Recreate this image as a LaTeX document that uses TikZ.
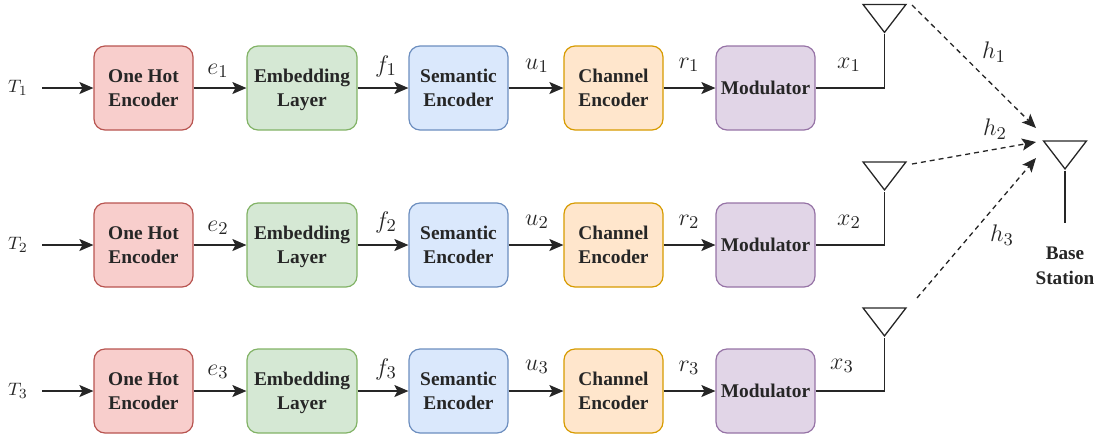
\documentclass[tikz,border=0pt]{standalone}
\usepackage{amsmath,amssymb}
\usepackage{fontspec}
\setmainfont{Liberation Serif}
\usetikzlibrary{arrows.meta,shapes.geometric}

\definecolor{redfill}{HTML}{F8CECC}
\definecolor{redline}{HTML}{B85450}
\definecolor{greenfill}{HTML}{D5E8D4}
\definecolor{greenline}{HTML}{82B366}
\definecolor{bluefill}{HTML}{DAE8FC}
\definecolor{blueline}{HTML}{6C8EBF}
\definecolor{orangefill}{HTML}{FFE6CC}
\definecolor{orangeline}{HTML}{D79B00}
\definecolor{purplefill}{HTML}{E1D5E7}
\definecolor{purpleline}{HTML}{9673A6}

\tikzset{
  block/.style={shape=rectangle, rounded corners=5.5pt, minimum height=42pt, align=center, inner sep=0pt, line width=0.6pt, text=black!85, font=\fontsize{9.7}{12}\selectfont\bfseries},
  onehot/.style={block, minimum width=49.5pt, draw=redline, fill=redfill},
  embed/.style={block, minimum width=55pt, text depth=0pt, draw=greenline, fill=greenfill},
  semantic/.style={block, minimum width=49.5pt, draw=blueline, fill=bluefill},
  channel/.style={block, minimum width=49.5pt, draw=orangeline, fill=orangefill},
  modul/.style={block, minimum width=49.5pt, draw=purpleline, fill=purplefill},
  antenna/.style={shape=isosceles triangle, shape border rotate=-90, isosceles triangle stretches, minimum width=21.5pt, minimum height=14pt, inner sep=0pt, line width=0.65pt, draw=black!85},
  conn/.style={line width=0.65pt, draw=black!85, -{Stealth[length=7pt,width=6pt,inset=1.5pt]}},
  wire/.style={line width=0.65pt, draw=black!85},
  link/.style={conn, dashed, dash pattern=on 2.5pt off 2pt},
  sym/.style={inner sep=0pt, text=black!85, font=\fontsize{13}{15}\selectfont},
  tsym/.style={inner sep=0pt, text=black!85, font=\fontsize{9.5}{11}\selectfont}
}

\begin{document}
\begin{tikzpicture}[x=0.5pt,y=-0.5pt]
\useasboundingbox (0,0) rectangle (1100,436);

% row 1
\path (18,88) node (T1) [tsym] {$T_1$};
\path (143.5,88) node (H1) [onehot] {One Hot\\Encoder};
\path (302,88) node (E1) [embed] {Embedding\\Layer};
\path (458.5,88) node (S1) [semantic] {Semantic\\Encoder};
\path (613.5,88) node (C1) [channel] {Channel\\Encoder};
\path (765.5,88) node (M1) [modul] {Modulator};
\path (884.5,15) node (A1) [antenna] {};

% row 2
\path (18,245) node (T2) [tsym] {$T_2$};
\path (143.5,245) node (H2) [onehot] {One Hot\\Encoder};
\path (302,245) node (E2) [embed] {Embedding\\Layer};
\path (458.5,245) node (S2) [semantic] {Semantic\\Encoder};
\path (613.5,245) node (C2) [channel] {Channel\\Encoder};
\path (765.5,245) node (M2) [modul] {Modulator};
\path (884.5,172.5) node (A2) [antenna] {};

% row 3
\path (18,391) node (T3) [tsym] {$T_3$};
\path (143.5,391) node (H3) [onehot] {One Hot\\Encoder};
\path (302,391) node (E3) [embed] {Embedding\\Layer};
\path (458.5,391) node (S3) [semantic] {Semantic\\Encoder};
\path (613.5,391) node (C3) [channel] {Channel\\Encoder};
\path (765.5,391) node (M3) [modul] {Modulator};
\path (884.5,318.5) node (A3) [antenna] {};

% base station
\path (1065,151.5) node (A4) [antenna] {};
\path (1065,223) coordinate (A4end);
\path (1065,266) node (BS) [align=center, inner sep=0pt, text=black!85, font=\fontsize{9.6}{12.5}\selectfont\bfseries] {Base\\Station};

% signal labels
\path (218,71) node (e1) [sym] {$e_1$};
\path (386,66) node (f1) [sym] {$f_1$};
\path (537,66) node (u1) [sym] {$u_1$};
\path (689,65) node (r1) [sym] {$r_1$};
\path (849,65) node (x1) [sym] {$x_1$};
\path (218,228) node (e2) [sym] {$e_2$};
\path (386,222) node (f2) [sym] {$f_2$};
\path (537,222) node (u2) [sym] {$u_2$};
\path (689,222) node (r2) [sym] {$r_2$};
\path (849,222) node (x2) [sym] {$x_2$};
\path (218,372) node (e3) [sym] {$e_3$};
\path (386,369) node (f3) [sym] {$f_3$};
\path (537,367) node (u3) [sym] {$u_3$};
\path (689,368) node (r3) [sym] {$r_3$};
\path (842,366) node (x3) [sym] {$x_3$};
\path (994,52) node (h1) [sym] {$h_1$};
\path (995,129) node (h2) [sym] {$h_2$};
\path (1002,235) node (h3) [sym] {$h_3$};

% free ends of the dashed links
\path (912,5) coordinate (L1s);
\path (1036,128) coordinate (L1e);
\path (912,164) coordinate (L2s);
\path (1036,142) coordinate (L2e);
\path (917,298) coordinate (L3s);
\path (1036,158) coordinate (L3e);

% connectors
\draw[conn, shorten <=7pt] (T1.east) -- (H1.west);
\draw[conn] (H1.east) -- (E1.west);
\draw[conn] (E1.east) -- (S1.west);
\draw[conn] (S1.east) -- (C1.west);
\draw[conn] (C1.east) -- (M1.west);
\draw[wire] (M1.east) -| (A1.apex);

\draw[conn, shorten <=7pt] (T2.east) -- (H2.west);
\draw[conn] (H2.east) -- (E2.west);
\draw[conn] (E2.east) -- (S2.west);
\draw[conn] (S2.east) -- (C2.west);
\draw[conn] (C2.east) -- (M2.west);
\draw[wire] (M2.east) -| (A2.apex);

\draw[conn, shorten <=7pt] (T3.east) -- (H3.west);
\draw[conn] (H3.east) -- (E3.west);
\draw[conn] (E3.east) -- (S3.west);
\draw[conn] (S3.east) -- (C3.west);
\draw[conn] (C3.east) -- (M3.west);
\draw[wire] (M3.east) -| (A3.apex);

\draw[wire] (A4.apex) -- (A4end);
\draw[link] (L1s) -- (L1e);
\draw[link] (L2s) -- (L2e);
\draw[link] (L3s) -- (L3e);

\end{tikzpicture}
\end{document}
